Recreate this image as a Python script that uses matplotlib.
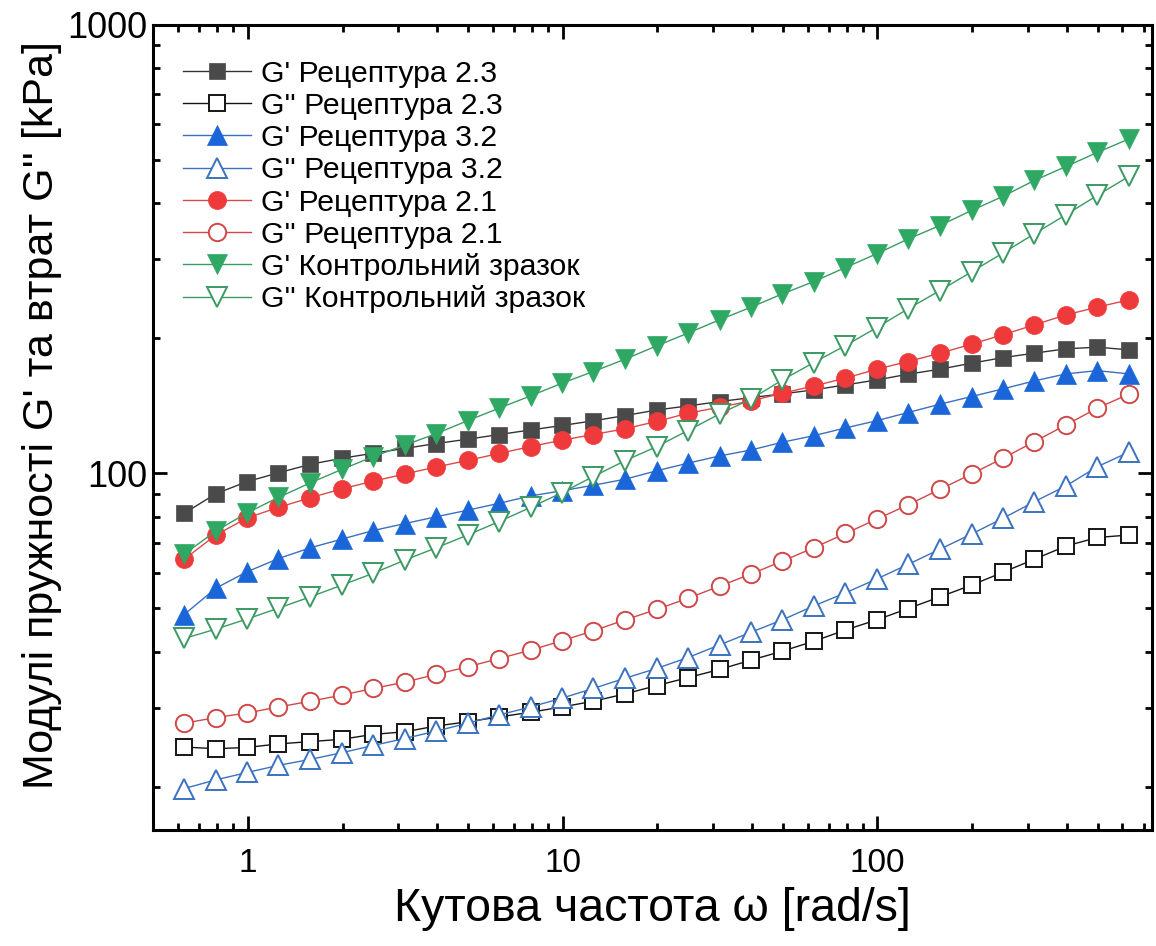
# Частотна залежність модулів пружності G' та втрат G'' (log-log)
import matplotlib
matplotlib.use("Agg")
import matplotlib.pyplot as plt
from matplotlib.ticker import LogLocator, NullFormatter

plt.rcParams['font.family'] = ['Liberation Sans', 'DejaVu Sans']

# Кутова частота, rad/s
omega = [0.628, 0.791, 0.995, 1.25, 1.58, 1.99, 2.50, 3.15, 3.97, 4.99,
         6.28, 7.91, 9.95, 12.5, 15.8, 19.9, 25.0, 31.5, 39.7, 49.9,
         62.8, 79.1, 99.5, 125, 158, 199, 250, 315, 397, 499, 628]

# Рецептура 2.3
g1_23 = [81.4, 90.0, 95.8, 100.2, 104.7, 108.0, 110.8, 113.6, 116.5, 119.1,
         122.0, 124.9, 127.8, 130.9, 134.5, 138.4, 141.3, 144.5, 147.5, 150.3,
         153.5, 157.4, 161.5, 166.3, 170.7, 176.0, 181.1, 185.3, 189.5, 191.1, 188.5]
g2_23 = [24.5, 24.3, 24.45, 24.9, 25.2, 25.5, 26.15, 26.5, 27.3, 27.9,
         28.6, 29.3, 30.1, 31.0, 32.2, 33.6, 35.0, 36.5, 38.3, 40.1,
         42.2, 44.7, 47.1, 49.9, 53.0, 56.3, 60.1, 64.3, 68.8, 71.9, 72.8]

# Рецептура 3.2
g1_32 = [48.4, 55.4, 60.3, 64.5, 68.2, 71.3, 74.5, 77.2, 80.0, 82.7,
         85.7, 89.0, 91.4, 94.0, 97.0, 101.3, 105.3, 109.3, 112.7, 117.3,
         121.3, 126.2, 131.0, 136.6, 142.6, 148.3, 154.2, 160.7, 166.6, 169.4, 166.6]
g2_32 = [19.8, 20.7, 21.5, 22.3, 23.0, 23.8, 24.7, 25.6, 26.6, 27.7,
         28.9, 30.1, 31.5, 33.1, 34.9, 36.7, 38.8, 41.4, 44.2, 47.1,
         50.6, 54.1, 58.1, 62.6, 67.7, 73.2, 79.3, 86.4, 93.7, 103.4, 111.4]

# Рецептура 2.1
g1_21 = [64.3, 72.8, 79.5, 83.9, 88.2, 92.3, 96.0, 99.6, 103.3, 106.8,
         110.7, 114.7, 118.5, 122.0, 125.7, 130.5, 136.1, 140.4, 145.0, 150.9,
         156.6, 163.0, 170.7, 177.5, 185.3, 194.1, 203.6, 214.3, 225.6, 234.7, 243.6]
g2_21 = [27.7, 28.5, 29.2, 30.1, 31.0, 32.0, 33.1, 34.2, 35.6, 37.0,
         38.6, 40.3, 42.3, 44.5, 47.1, 49.7, 52.6, 56.0, 59.6, 63.7,
         68.2, 73.4, 79.0, 85.0, 92.1, 99.6, 108.0, 117.6, 128.2, 139.7, 150.1]

# Контрольний зразок
g1_k = [66.0, 74.3, 81.6, 88.3, 95.2, 102.0, 108.9, 115.5, 122.6, 131.0,
        139.7, 148.8, 158.8, 168.6, 179.7, 192.4, 205.4, 219.9, 234.7, 251.3,
        267.7, 287.7, 308.8, 333.0, 357.0, 385.7, 414.4, 450.0, 483.4, 519.5, 556.7]
g2_k = [42.8, 44.9, 47.3, 50.0, 53.0, 56.3, 59.8, 64.0, 68.2, 72.8,
        78.0, 83.9, 90.5, 98.3, 106.7, 114.7, 124.5, 135.6, 146.5, 161.5,
        176.6, 192.7, 211.3, 232.7, 255.6, 281.4, 309.8, 342.1, 377.3, 416.7, 459.2]

labels = ["G' Рецептура 2.3", "G'' Рецептура 2.3",
          "G' Рецептура 3.2", "G'' Рецептура 3.2",
          "G' Рецептура 2.1", "G'' Рецептура 2.1",
          "G' Контрольний зразок", "G'' Контрольний зразок"]

fig = plt.figure(figsize=(11.56, 9.46), dpi=100)
ax = fig.add_axes([0.1324, 0.1226, 0.8642, 0.851])

# (дані, маркер, колір маркера, колір лінії, заливка, розмір)
series = [
    (g1_23, 's', '#4a4a4a', '#333333', True, 12),
    (g2_23, 's', '#151515', '#151515', False, 11.5),
    (g1_32, '^', '#1a66d9', '#3b6fc0', True, 14),
    (g2_32, '^', '#3b72c0', '#3b72c0', False, 14),
    (g1_21, 'o', '#ee3a3a', '#d94a4a', True, 13),
    (g2_21, 'o', '#d04848', '#d04848', False, 12.5),
    (g1_k, 'v', '#2ea862', '#3a9c64', True, 14),
    (g2_k, 'v', '#3a9a62', '#3a9a62', False, 14),
]

for (y, m, mc, lc, filled, ms), lab in zip(series, labels):
    if filled:
        ax.plot(omega, y, color=lc, lw=1.0, marker=m, ms=ms,
                markerfacecolor=mc, markeredgecolor=mc, markeredgewidth=0.5,
                label=lab)
    else:
        ax.plot(omega, y, color=lc, lw=1.0, marker=m, ms=ms,
                markerfacecolor='white', markeredgecolor=mc, markeredgewidth=1.4,
                label=lab)

ax.set_xscale('log')
ax.set_yscale('log')
ax.set_xlim(0.5, 745)
ax.set_ylim(16, 1000)

ax.set_xticks([1, 10, 100])
ax.set_xticklabels(['1', '10', '100'])
ax.set_yticks([100, 1000])
ax.set_yticklabels(['100', '1000'])
ax.xaxis.set_minor_locator(LogLocator(base=10, subs=range(2, 10)))
ax.yaxis.set_minor_locator(LogLocator(base=10, subs=range(2, 10)))
ax.xaxis.set_minor_formatter(NullFormatter())
ax.yaxis.set_minor_formatter(NullFormatter())

for s in ax.spines.values():
    s.set_linewidth(2.2)
ax.tick_params(which='both', direction='in', top=True, right=True, width=2.0)
ax.tick_params(which='major', length=10)
ax.tick_params(axis='x', which='major', pad=13, labelsize=24)
ax.tick_params(axis='y', which='major', pad=4, labelsize=26)
ax.tick_params(which='minor', length=5)

ax.set_xlabel("Кутова частота ω [rad/s]", fontsize=33.5)
ax.set_ylabel("Модулі пружності G' та втрат G'' [kPa]", fontsize=31)
ax.xaxis.set_label_coords(0.5, -0.071)
ax.yaxis.set_label_coords(-0.091, 0.515)

ax.legend(loc='upper left', bbox_to_anchor=(0.03, 0.957), frameon=False,
          fontsize=21.8, handlelength=2.25, handletextpad=0.33,
          labelspacing=0.14, borderpad=0, borderaxespad=0)

fig.savefig('out.png', dpi=100)
